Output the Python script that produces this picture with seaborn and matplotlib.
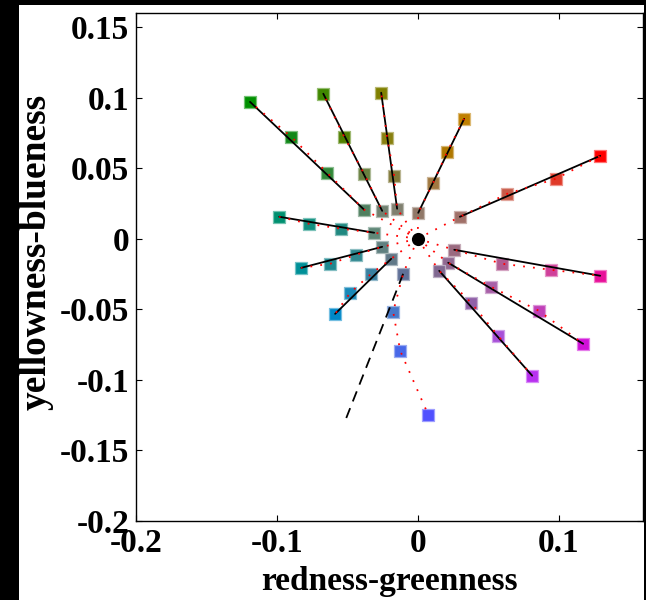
import matplotlib
matplotlib.use("Agg")
import numpy as np
import pandas as pd
import matplotlib.pyplot as plt
import seaborn as sns
from matplotlib.colors import to_rgb
from matplotlib.patches import Rectangle

# Chromaticity shifts: four steps along each of twelve hue directions (inner -> outer)
red_x = [0.030, 0.0636, 0.098, 0.1296]
red_y = [0.0156, 0.0319, 0.0425, 0.0588]
red_c = ["#a07068", "#c85a48", "#e03a28", "#ff0000"]

pink_x = [0.026, 0.060, 0.0948, 0.1296]
pink_y = [-0.0078, -0.0177, -0.0220, -0.0262]
pink_c = ["#9a6a80", "#b05a90", "#d0409a", "#e8109a"]

magenta_x = [0.0217, 0.052, 0.086, 0.1175]
magenta_y = [-0.017, -0.034, -0.051, -0.0744]
magenta_c = ["#906890", "#a860a8", "#c040b8", "#d010d8"]

purple_x = [0.0153, 0.038, 0.057, 0.0813]
purple_y = [-0.0227, -0.0454, -0.0687, -0.097]
purple_c = ["#806890", "#9060a8", "#a850d8", "#b830f0"]

blue_x = [-0.0103, -0.0174, -0.0124, 0.0075]
blue_y = [-0.0248, -0.0517, -0.0794, -0.1247]
blue_c = ["#607098", "#4878c8", "#4868e8", "#5050ff"]

azure_x = [-0.0188, -0.033, -0.0479, -0.0586]
azure_y = [-0.0142, -0.0248, -0.0383, -0.0532]
azure_c = ["#607888", "#3880a0", "#1888b8", "#0088c8"]

cyan_x = [-0.0252, -0.0437, -0.0621, -0.0827]
cyan_y = [-0.0057, -0.0113, -0.0177, -0.0206]
cyan_c = ["#608080", "#308890", "#208890", "#009098"]

teal_x = [-0.0309, -0.0543, -0.0771, -0.0983]
teal_y = [0.0043, 0.0071, 0.0106, 0.0156]
teal_c = ["#608878", "#208880", "#109080", "#009070"]

green_x = [-0.038, -0.0643, -0.0898, -0.119]
green_y = [0.0206, 0.0468, 0.0723, 0.097]
green_c = ["#508060", "#308838", "#108818", "#009000"]

chart_x = [-0.0252, -0.038, -0.0522, -0.067]
chart_y = [0.0198, 0.046, 0.0723, 0.1028]
chart_c = ["#708070", "#688040", "#508000", "#408800"]

olive_x = [-0.0146, -0.0167, -0.0217, -0.0259]
olive_y = [0.0213, 0.0447, 0.0716, 0.1035]
olive_c = ["#808070", "#807838", "#888010", "#808000"]

orange_x = [0.0004, 0.011, 0.021, 0.033]
orange_y = [0.0184, 0.0397, 0.0617, 0.085]
orange_c = ["#907868", "#a07840", "#b07800", "#c08000"]

# Fitted line for the blue direction (deviates from the measured points)
blue_fit_x = [-0.0103, -0.0507]
blue_fit_y = [-0.0248, -0.127]

# Adaptation point
center_x = [0.0]
center_y = [0.0]

xticks = [-0.2, -0.1, 0.0, 0.1]
xtick_labels = ["-0.2", "-0.1", "0", "0.1"]
yticks = [-0.2, -0.15, -0.1, -0.05, 0.0, 0.05, 0.1, 0.15]
ytick_labels = ["-0.2", "-0.15", "-0.1", "-0.05", "0", "0.05", "0.1", "0.15"]

spokes = {
    "red": (red_x, red_y, red_c),
    "pink": (pink_x, pink_y, pink_c),
    "magenta": (magenta_x, magenta_y, magenta_c),
    "purple": (purple_x, purple_y, purple_c),
    "blue": (blue_x, blue_y, blue_c),
    "azure": (azure_x, azure_y, azure_c),
    "cyan": (cyan_x, cyan_y, cyan_c),
    "teal": (teal_x, teal_y, teal_c),
    "green": (green_x, green_y, green_c),
    "chartreuse": (chart_x, chart_y, chart_c),
    "olive": (olive_x, olive_y, olive_c),
    "orange": (orange_x, orange_y, orange_c),
}

# Long tables for seaborn
pts_rows, path_rows, fit_rows = [], [], []
for name, (xs, ys, cs) in spokes.items():
    path_rows.append({"spoke": name, "x": center_x[0], "y": center_y[0]})
    for i, (x, y, c) in enumerate(zip(xs, ys, cs)):
        pts_rows.append({"spoke": name, "key": f"{name}{i}", "x": x, "y": y, "color": c})
        path_rows.append({"spoke": name, "x": x, "y": y})
    if name != "blue":
        fit_rows.append({"spoke": name, "x": xs[0], "y": ys[0]})
        fit_rows.append({"spoke": name, "x": xs[-1], "y": ys[-1]})
pts = pd.DataFrame(pts_rows)
paths = pd.DataFrame(path_rows)
fits = pd.DataFrame(fit_rows)
blue_fit = pd.DataFrame({"x": blue_fit_x, "y": blue_fit_y})

sns.set_style("ticks")
plt.rcParams["font.family"] = ["Liberation Serif", "DejaVu Serif"]
plt.rcParams["font.weight"] = "bold"
plt.rcParams["axes.unicode_minus"] = False
plt.rcParams["text.color"] = "black"
plt.rcParams["axes.labelcolor"] = "black"

fig = plt.figure(figsize=(6.46, 6.00), dpi=100)
fig.patch.set_facecolor("black")
fig.patches.append(Rectangle((19 / 646, 0), (644 - 19) / 646, 595 / 600,
                             transform=fig.transFigure, facecolor="white",
                             edgecolor="none", zorder=-10))
ax = fig.add_axes([136 / 646, 79 / 600, 507 / 646, 508 / 600])
ax.set_zorder(1)
ax.set_facecolor("white")

palette = dict(zip(pts["key"], pts["color"]))
edges = [tuple(0.55 * np.array(to_rgb(c)) + 0.45) for c in pts["color"]]
sns.scatterplot(data=pts, x="x", y="y", hue="key", palette=palette, marker="s",
                s=72, edgecolor=edges, linewidth=0.9, legend=False, ax=ax, zorder=2)

sns.lineplot(data=fits, x="x", y="y", units="spoke", estimator=None, sort=False,
             color="black", linewidth=1.3, ax=ax, zorder=3)
sns.lineplot(data=blue_fit, x="x", y="y", estimator=None, sort=False,
             color="black", linewidth=1.3, linestyle=(0, (6, 4)), ax=ax, zorder=3)
sns.lineplot(data=paths, x="x", y="y", units="spoke", estimator=None, sort=False,
             color="red", linewidth=1.3, linestyle=(0, (1, 4.5)), ax=ax, zorder=4)
sns.scatterplot(x=center_x, y=center_y, color="black", marker="o", s=90,
                edgecolor="black", linewidth=0, legend=False, ax=ax, zorder=5)

ax.set_xlim(-0.2, 0.16)
ax.set_ylim(-0.2, 0.16)
ax.set_xticks(xticks)
ax.set_xticklabels(xtick_labels)
ax.set_yticks(yticks)
ax.set_yticklabels(ytick_labels)
ax.tick_params(direction="in", length=4, width=0.8, top=True, right=True,
               labelsize=24, pad=5, colors="black")
for lab in ax.get_xticklabels() + ax.get_yticklabels():
    lab.set_fontweight("bold")
for sp in ax.spines.values():
    sp.set_linewidth(1.0)
    sp.set_color("black")

ax.set_xlabel("redness-greenness", fontsize=24, fontweight="bold", color="black")
ax.xaxis.set_label_coords(0.5, -0.088)
ax.set_ylabel("yellowness-blueness", fontsize=27, fontweight="bold", color="black")
ax.yaxis.set_label_coords(-0.163, 0.53)

fig.savefig("out.png", dpi=100, facecolor=fig.get_facecolor())
